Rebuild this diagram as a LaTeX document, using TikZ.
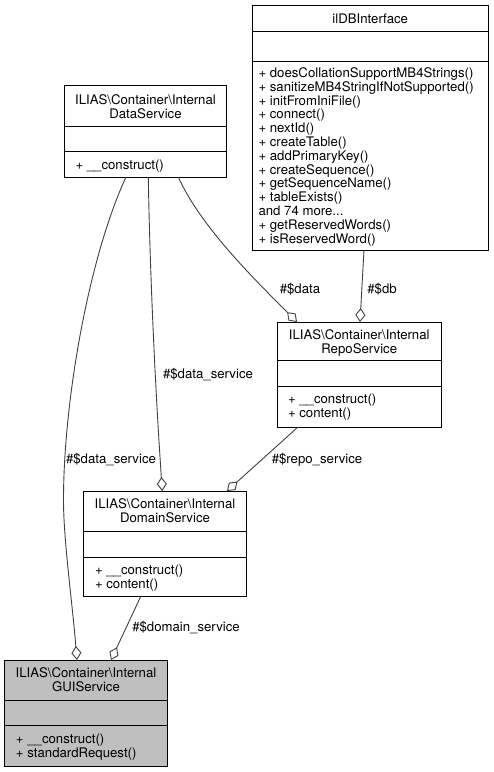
\documentclass[tikz,border=0pt]{standalone}
\usepackage{fontspec}
\setmainfont{TeX Gyre Heros}
\usetikzlibrary{arrows.meta}
\begin{document}
\begin{tikzpicture}[x=1pt,y=-1pt,
  classbox/.style={draw=black, line width=0.9pt, fill=white, inner sep=0pt, outer sep=0pt},
  sepline/.style={draw=black, line width=0.9pt},
  txt/.style={inner sep=0pt, outer sep=0pt, font=\fontsize{13.2}{14}\selectfont},
  ttl/.style={txt, anchor=base},
  mth/.style={txt, anchor=base west},
  lbl/.style={txt, anchor=base},
  edge/.style={draw=black!75, line width=0.9pt,
    -{Diamond[length=14pt, width=10pt, fill=white, line width=0.9pt]}}
]
\useasboundingbox (0,0) rectangle (494,772);

% ---------- boxes ----------
\node[classbox, minimum width=235.5pt, minimum height=245pt] (ildb) at (370.25,127.5) {};
\node[classbox, minimum width=162pt, minimum height=92pt] (data) at (145.5,131) {};
\node[classbox, minimum width=164.5pt, minimum height=105pt] (repo) at (359.25,374.5) {};
\node[classbox, minimum width=163pt, minimum height=105.5pt] (domain) at (165,543.75) {};
\node[classbox, fill=black!25, minimum width=163pt, minimum height=106pt] (gui) at (86,713) {};

% ---------- separators ----------
\draw[sepline] ([yshift=-26.7pt]ildb.north west) -- ([yshift=-26.7pt]ildb.north east);
\draw[sepline] ([yshift=-56pt]ildb.north west) -- ([yshift=-56pt]ildb.north east);
\draw[sepline] ([yshift=-41.7pt]data.north west) -- ([yshift=-41.7pt]data.north east);
\draw[sepline] ([yshift=-66pt]data.north west) -- ([yshift=-66pt]data.north east);
\draw[sepline] ([yshift=-38.7pt]repo.north west) -- ([yshift=-38.7pt]repo.north east);
\draw[sepline] ([yshift=-64.7pt]repo.north west) -- ([yshift=-64.7pt]repo.north east);
\draw[sepline] ([yshift=-40.7pt]domain.north west) -- ([yshift=-40.7pt]domain.north east);
\draw[sepline] ([yshift=-66pt]domain.north west) -- ([yshift=-66pt]domain.north east);
\draw[sepline] ([yshift=-40pt]gui.north west) -- ([yshift=-40pt]gui.north east);
\draw[sepline] ([yshift=-65.5pt]gui.north west) -- ([yshift=-65.5pt]gui.north east);

% ---------- texts ----------
\node[ttl] (ildbT) at (370.25,23) {ilDBInterface};
\foreach \t [count=\i from 0] in {%
  + doesCollationSupportMB4Strings(),
  + sanitizeMB4StringIfNotSupported(),
  + initFromIniFile(),
  + connect(),
  + nextId(),
  + createTable(),
  + addPrimaryKey(),
  + createSequence(),
  + getSequenceName(),
  + tableExists(),
  and 74 more.{}.{}.,
  + getReservedWords(),
  + isReservedWord()}
  \node[mth] (ildbm\i) at (258.5,77.5+13.8*\i) {\t};

\node[ttl] (dataT1) at (145.5,104.5) {ILIAS\textbackslash Container\textbackslash Internal};
\node[ttl] (dataT2) at (145.5,118) {DataService};
\node[mth] (dataM1) at (75.5,169.5) {+ \_\_construct()};

\node[ttl] (repoT1) at (359.25,339.5) {ILIAS\textbackslash Container\textbackslash Internal};
\node[ttl] (repoT2) at (359.25,353) {RepoService};
\node[mth] (repoM1) at (288,403) {+ \_\_construct()};
\node[mth] (repoM2) at (288,417) {+ content()};

\node[ttl] (domT1) at (165,508.5) {ILIAS\textbackslash Container\textbackslash Internal};
\node[ttl] (domT2) at (165,522) {DomainService};
\node[mth] (domM1) at (95,574.5) {+ \_\_construct()};
\node[mth] (domM2) at (95,588) {+ content()};

\node[ttl] (guiT1) at (86,677.5) {ILIAS\textbackslash Container\textbackslash Internal};
\node[ttl] (guiT2) at (86,691) {GUIService};
\node[mth] (guiM1) at (16,743) {+ \_\_construct()};
\node[mth] (guiM2) at (16,757) {+ standardRequest()};

% ---------- connectors ----------
\draw[edge] ([xshift=-19.5pt]data.south) .. controls (89,257) and (63.5,400) .. (63.5,500)
  .. controls (63.5,540) and (72,600) .. ([xshift=-9pt]gui.north);
\draw[edge] ([xshift=2.8pt]data.south) .. controls (150,280) and (156,400) .. ([xshift=-2.7pt]domain.north);
\draw[edge] ([xshift=32.8pt]data.south) .. controls (200,225) and (250,275) .. ([xshift=-62.25pt]repo.north);
\draw[edge] ([xshift=-6.25pt]ildb.south) -- ([xshift=0.75pt]repo.north);
\draw[edge] ([xshift=-61.25pt]repo.south) -- ([xshift=62pt]domain.north);
\draw[edge] ([xshift=-24.3pt]domain.south) -- ([xshift=25pt]gui.north);

% ---------- labels ----------
\node[lbl] (lblA) at (111,463) {\#\$data\_service};
\node[lbl] (lblB) at (208,378) {\#\$data\_service};
\node[lbl] (lblC) at (300,293) {\#\$data};
\node[lbl] (lblD) at (382,293) {\#\$db};
\node[lbl] (lblE) at (317,463.4) {\#\$repo\_service};
\node[lbl] (lblF) at (186,631.7) {\#\$domain\_service};
\end{tikzpicture}
\end{document}
